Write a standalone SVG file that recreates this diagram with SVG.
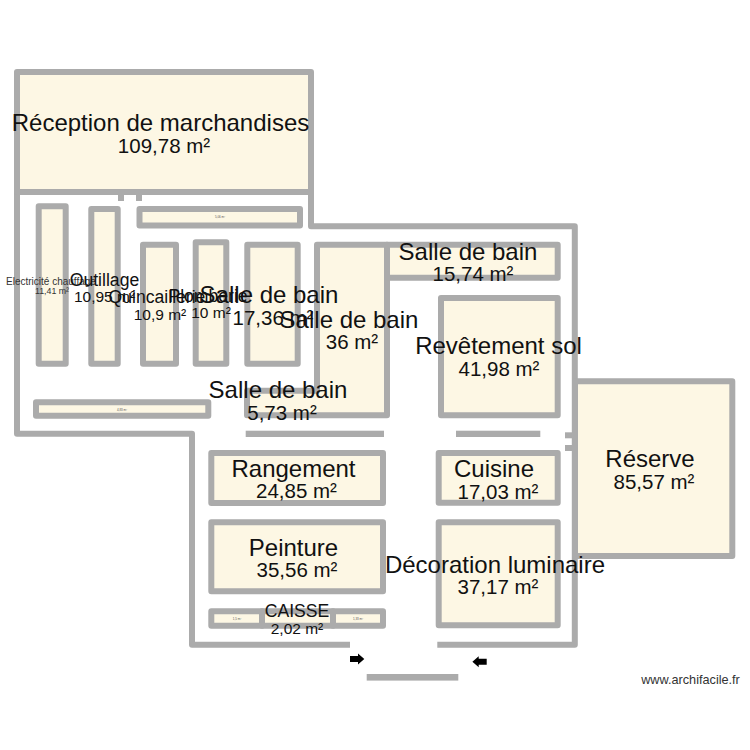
<svg xmlns="http://www.w3.org/2000/svg" width="750" height="750" viewBox="0 0 750 750">
<style>
text{font-family:"Liberation Sans",Arial,sans-serif;fill:#111;text-anchor:middle}
.room{fill:#fdf7e4;stroke:#ababab;stroke-width:6;stroke-linejoin:round}
.wall{fill:none;stroke:#ababab;stroke-width:6;stroke-linejoin:round}
.block{fill:#ababab}
.n{font-size:24px}.a{font-size:20.5px}
.n2{font-size:17.6px}.a2{font-size:15.5px}
.n3{font-size:10px;fill:#333}.a3{font-size:8.8px;fill:#333}
.t{font-size:3px;fill:#555}
.url{font-size:12.7px;fill:#333}
</style>
<defs>
<path id="arrow" d="M0-3H8V-5.5L14.3 0 8 5.5V3H0Z" fill="#000"/>
</defs>
<g id="walls">
<path class="wall" d="M17 190V433.7H192V644.7H350"/>
<path class="wall" d="M311 190V226.3H574.8V644.7H437.3"/>
<rect class="block" x="118" y="195" width="6" height="6"/>
<rect class="block" x="136" y="195" width="6" height="6"/>
<rect class="block" x="565" y="432.3" width="8" height="6"/>
<rect class="block" x="565" y="445" width="8" height="6"/>
<rect class="block" x="245.7" y="430.7" width="138.3" height="6.3"/>
<rect class="block" x="456" y="430.7" width="84.3" height="6.3"/>
<rect class="block" x="366.7" y="674" width="91.6" height="6.6"/>
</g>
<g id="room-reception">
<rect class="room" x="17" y="72" width="294" height="120"/>
</g>
<g id="room-506"><rect class="room" x="139.5" y="209" width="160.5" height="16.5"/><text class="t" x="220" y="218">5,06 m²</text></g>
<g id="room-electricite"><rect class="room" x="38.7" y="206.3" width="27" height="157.4"/></g>
<g id="room-outillage"><rect class="room" x="91.3" y="209" width="26.4" height="154.7"/></g>
<g id="room-quincaillerie"><rect class="room" x="143" y="244.7" width="33" height="119"/></g>
<g id="room-plomberie"><rect class="room" x="195.7" y="242.3" width="30.6" height="121.4"/></g>
<g id="room-sdb-1736"><rect class="room" x="247.3" y="244.7" width="50.4" height="119"/></g>
<g id="room-483"><rect class="room" x="36" y="402.3" width="172.3" height="13.4"/><text class="t" x="122" y="410.5">4,83 m²</text></g>
<g id="room-sdb-36"><path class="room" d="M247 390.7H317V244.7H387V415.3H247Z"/></g>
<g id="room-sdb-1574"><rect class="room" x="387" y="244.7" width="170.7" height="33"/></g>
<g id="room-revetement"><rect class="room" x="441" y="298" width="116.7" height="117.3"/></g>
<g id="room-reserve"><rect class="room" x="575" y="381.3" width="157.3" height="174.7"/></g>
<g id="room-cuisine"><rect class="room" x="438.7" y="453" width="119" height="49.7"/></g>
<g id="room-decoration"><rect class="room" x="438.7" y="522.3" width="119" height="103"/></g>
<g id="room-rangement"><rect class="room" x="211.3" y="453" width="171.7" height="50"/></g>
<g id="room-peinture"><rect class="room" x="211.3" y="522.3" width="171.7" height="69"/></g>
<g id="room-15"><rect class="room" x="211.3" y="611.3" width="50.7" height="14.4"/><text class="t" x="237" y="620">1,5 m²</text></g>
<g id="room-caisse"><rect class="room" x="262" y="611.3" width="71" height="14.4"/></g>
<g id="room-133"><rect class="room" x="333" y="611.3" width="50" height="14.4"/><text class="t" x="358" y="620">1,33 m²</text></g>
<g id="connectors">
<use href="#arrow" x="350" y="659"/>
<use href="#arrow" transform="translate(486.7 661.7) scale(-1 1)"/>
</g>
<g id="labels">
<text class="n" x="160.5" y="131">Réception de marchandises</text><text class="a" x="164" y="153">109,78 m²</text>
<text class="n3" x="51" y="285">Electricité chauffage</text><text class="a3" x="52" y="294">11,41 m²</text>
<text class="n2" x="104.5" y="286">Outillage</text><text class="a2" x="104.5" y="302">10,95 m²</text>
<text class="n2" x="157" y="303">Quincaillerie</text><text class="a2" x="160" y="320">10,9 m²</text>
<text class="n2" x="208" y="302">Plomberie</text><text class="a2" x="211" y="318">10 m²</text>
<text class="n" x="269" y="303">Salle de bain</text><text class="a" x="273" y="325">17,36 m²</text>
<text class="n" x="349" y="328">Salle de bain</text><text class="a" x="352" y="349">36 m²</text>
<text class="n" x="278" y="398">Salle de bain</text><text class="a" x="282" y="420">5,73 m²</text>
<text class="n" x="468" y="259.5">Salle de bain</text><text class="a" x="473" y="281">15,74 m²</text>
<text class="n" x="498.5" y="354">Revêtement sol</text><text class="a" x="499" y="376">41,98 m²</text>
<text class="n" x="650" y="467">Réserve</text><text class="a" x="654" y="489">85,57 m²</text>
<text class="n" x="494" y="477">Cuisine</text><text class="a" x="498" y="498.5">17,03 m²</text>
<text class="n" x="495" y="573">Décoration luminaire</text><text class="a" x="498" y="594">37,17 m²</text>
<text class="n" x="293.5" y="477">Rangement</text><text class="a" x="296.5" y="498">24,85 m²</text>
<text class="n" x="293.5" y="556">Peinture</text><text class="a" x="297" y="577">35,56 m²</text>
<text class="n2" x="297" y="617">CAISSE</text><text class="a2" x="297" y="634.3">2,02 m²</text>
<text class="url" x="690.5" y="684">www.archifacile.fr</text>
</g>
</svg>
